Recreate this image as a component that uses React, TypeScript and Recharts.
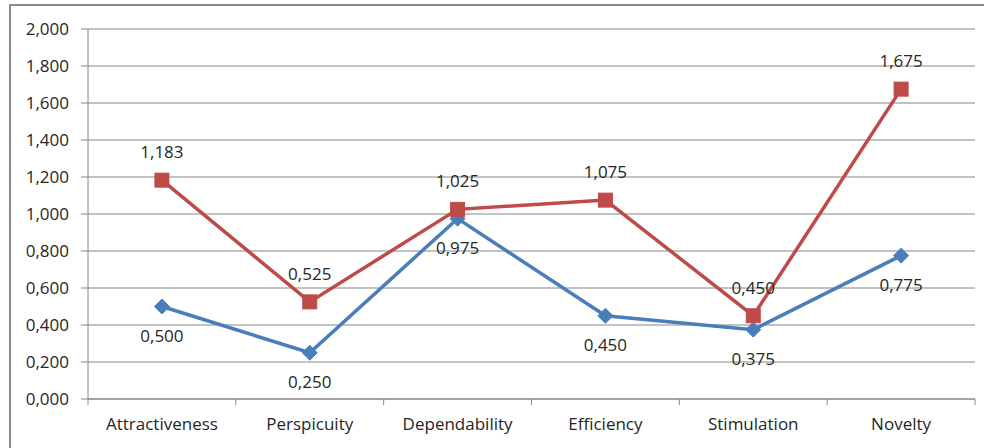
import React from "react";
import { LineChart, Line, XAxis, YAxis, CartesianGrid, LabelList } from "recharts";

const categories = ["Attractiveness", "Perspicuity", "Dependability", "Efficiency", "Stimulation", "Novelty"];
const seriesA = [0.5, 0.25, 0.975, 0.45, 0.375, 0.775];
const seriesB = [1.183, 0.525, 1.025, 1.075, 0.45, 1.675];
const yTicks = [0, 0.2, 0.4, 0.6, 0.8, 1.0, 1.2, 1.4, 1.6, 1.8, 2.0];

const data = categories.map((c, i) => ({ name: c, a: seriesA[i], b: seriesB[i] }));

const W = 984;
const H = 448;
const M = { top: 29, right: 9, left: 0, bottom: 0 };
const YW = 88;
const XH = 49;
const plotW = W - YW - M.right;
const band = plotW / categories.length;

const FONT = "'Open Sans', 'Liberation Sans', sans-serif";
const FS = 17;
const fmt = (v: number) => v.toFixed(3).replace(".", ",");

const XTick = (props: any) => {
  const { x, y, payload, index } = props;
  const left = x - band / 2;
  return (
    <g>
      <line x1={left} x2={left} y1={y - 8} y2={y - 2} stroke="#868686" strokeWidth={1} />
      {index === categories.length - 1 && (
        <line x1={x + band / 2} x2={x + band / 2} y1={y - 8} y2={y - 2} stroke="#868686" strokeWidth={1} />
      )}
      <text x={x} y={y + 18} textAnchor="middle" dominantBaseline="middle" fontFamily={FONT} fontSize={FS} fill="#262626">
        {payload.value}
      </text>
    </g>
  );
};

const Diamond = (props: any) => {
  const { cx, cy } = props;
  if (cx == null || cy == null) return null;
  const r = 7.5;
  return <path d={`M${cx},${cy - r}L${cx + r},${cy}L${cx},${cy + r}L${cx - r},${cy}Z`} fill="#4A7EBB" stroke="#4A7EBB" />;
};

const Square = (props: any) => {
  const { cx, cy } = props;
  if (cx == null || cy == null) return null;
  const r = 7;
  return <rect x={cx - r} y={cy - r} width={2 * r} height={2 * r} fill="#BE4B48" stroke="#BE4B48" />;
};

export default function App() {
  return (
    <div style={{ position: "absolute", left: 0, top: 0, width: W, height: H, overflow: "hidden", background: "#fff" }}>
      <div style={{ position: "absolute", left: 9, top: 4, width: 1000, height: 500, border: "2px solid #8a8a8a", boxSizing: "border-box" }} />
      <div style={{ position: "absolute", left: 0, top: 0 }}>
        <LineChart width={W} height={H} data={data} margin={M}>
          <CartesianGrid vertical={false} stroke="#868686" strokeWidth={1} />
          <XAxis
            dataKey="name"
            scale="band"
            height={XH}
            stroke="#868686"
            tickLine={false}
            tick={<XTick />}
            interval={0}
          />
          <YAxis
            width={YW}
            domain={[0, 2]}
            ticks={yTicks}
            interval={0}
            stroke="#868686"
            tickSize={7}
            tickMargin={12}
            tickFormatter={fmt}
            tick={{ fontFamily: FONT, fontSize: FS, fill: "#262626" }}
          />
          <Line dataKey="a" stroke="#4A7EBB" strokeWidth={3.5} dot={<Diamond />} activeDot={false} isAnimationActive={false}>
            <LabelList dataKey="a" position="bottom" offset={23} formatter={fmt} style={{ fontFamily: FONT, fontSize: FS, fill: "#262626" }} />
          </Line>
          <Line dataKey="b" stroke="#BE4B48" strokeWidth={3.5} dot={<Square />} activeDot={false} isAnimationActive={false}>
            <LabelList dataKey="b" position="top" offset={22} formatter={fmt} style={{ fontFamily: FONT, fontSize: FS, fill: "#262626" }} />
          </Line>
        </LineChart>
      </div>
    </div>
  );
}
